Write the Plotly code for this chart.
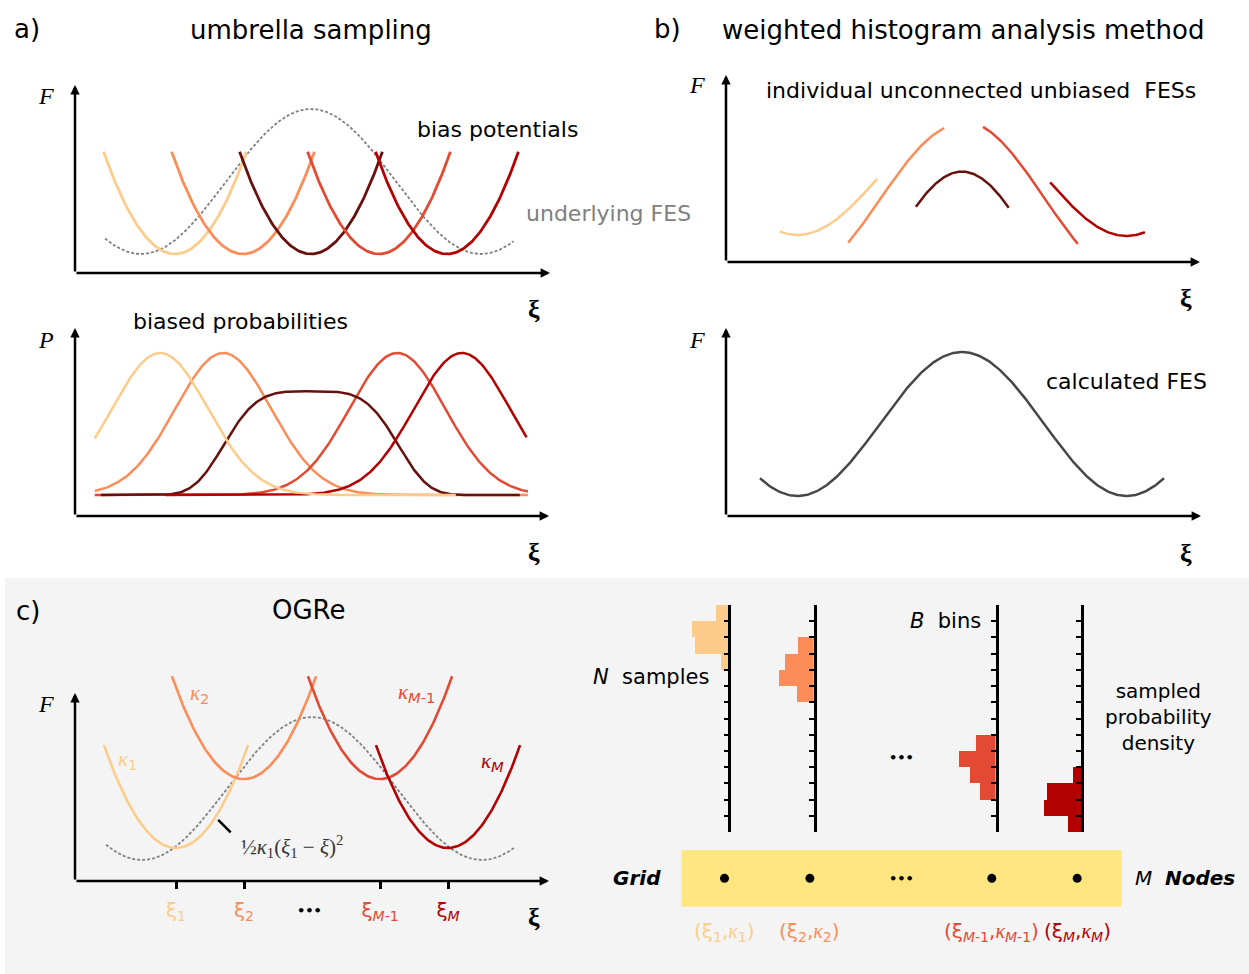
import numpy as np
import plotly.graph_objects as go

W, H = 1249, 974
SANS = "DejaVu Sans"
SERIF = "Liberation Serif"
KAPPA_FONT = "Liberation Serif"

# ---------------- data ----------------
# model free-energy surface: symmetric double well, barrier at FES_TS
FES_BARRIER = 1.0
FES_TS = 2.0
FES_HALF_PERIOD = 2.5
FES_SPAN = (-1.03, 4.98)

# a) umbrella windows
WINDOW_CENTERS = [0, 1, 2, 3, 4]
WINDOW_KAPPA = [1.28, 1.28, 1.28, 1.28, 1.28]
WINDOW_HALF_SPAN = 1.05

# a) biased probability densities  P = h * exp(-|(xi - c)/w|^p)
PROB_CENTERS = [-0.22, 0.71, 2.0, 3.27, 4.22]
PROB_HEIGHTS = [1.0, 1.0, 0.73, 1.0, 1.0]
PROB_WIDTHS = [1.0, 1.0, 1.39, 1.0, 1.0]
PROB_POWERS = [2, 2, 4, 2, 2]
PROB_SPANS = [(-1.18, 4.13), (-1.18, 5.19), (-1.09, 5.07), (-1.18, 5.19), (-0.14, 5.17)]
PROB_DRAW_ORDER = [1, 3, 2, 4, 0]

# b) unbiased pieces recovered per window (arbitrary additive constants)
SEG_SPANS = [(-0.77, 0.71), (0.27, 1.73), (1.30, 2.71), (2.32, 3.76), (3.34, 4.78)]
SEG_OFFSETS = [0.049, -0.234, -0.861, -0.228, 0.042]
SEG_SCALES = [0.82, 1.055, 1.35, 1.07, 0.84]
CALC_FES_SPAN = (-1.07, 5.07)

# c) OGRe nodes
OGRE_CENTERS = [0, 1, 3, 4]
OGRE_MIN_F = [0.084, 0.566, 0.566, 0.084]
OGRE_KAPPA = [1.28, 1.28, 1.28, 1.28]
OGRE_HALF_SPAN = 1.06

# c) sampled histograms per node
BIN_COUNT = 14
HIST_BINS = [[0, 1, 2, 3], [2, 3, 4, 5], [8, 9, 10, 11], [10, 11, 12, 13]]
HIST_COUNTS = [[12, 36, 33, 7], [16, 29, 35, 17], [20, 37, 26, 16], [8, 34, 37, 13]]

WINDOW_COLORS = ["#fdcc8a", "#fc8d59", "#67110f", "#e34a33", "#b30000"]
NODE_COLORS = ["#fdcc8a", "#fc8d59", "#e34a33", "#b30000"]
FES_GREY = "#808080"
CALC_GREY = "#474747"
BAND_COLOR = "#ffe680"
BG_GREY = "#f4f4f4"


def fes(xi):
    return FES_BARRIER * 0.5 * (1 + np.cos(np.pi * (xi - FES_TS) / FES_HALF_PERIOD))


# ---------------- layout helpers (pixel boxes of each panel) ----------------
def x_axis(lo, hi, ref_px, ref_val, ppu):
    f = lambda p: ref_val + (p - ref_px) / ppu
    return dict(domain=[lo / W, hi / W], range=[f(lo), f(hi)]), f


def y_axis(top, bottom, ref_px, ref_val, ppu):
    f = lambda p: ref_val + (ref_px - p) / ppu
    return dict(domain=[1 - bottom / H, 1 - top / H], range=[f(bottom), f(top)]), f


HIDDEN = dict(visible=False, showgrid=False, zeroline=False, fixedrange=True)

fig = go.Figure()
layout_axes = {}
annotations = []
shapes = []


def add_panel(n, xspec, yspec, arrow_top_px=None):
    xd, fx = x_axis(*xspec)
    yd, fy = y_axis(*yspec)
    xk = "xaxis" if n == 1 else f"xaxis{n}"
    yk = "yaxis" if n == 1 else f"yaxis{n}"
    xr = "x" if n == 1 else f"x{n}"
    yr = "y" if n == 1 else f"y{n}"
    layout_axes[xk] = dict(HIDDEN, **xd, anchor=yr)
    layout_axes[yk] = dict(HIDDEN, **yd, anchor=xr)
    x0, x1 = fx(xspec[0]), fx(xspec[1])
    y0 = fy(yspec[1])
    y1 = fy(arrow_top_px if arrow_top_px is not None else yspec[0])
    for (tx, ty) in [(x1, y0), (x0, y1)]:
        annotations.append(dict(
            x=tx, y=ty, ax=x0, ay=y0, xref=xr, yref=yr, axref=xr, ayref=yr,
            text="", showarrow=True, arrowhead=2, arrowsize=0.75,
            arrowwidth=2.5, arrowcolor="black", standoff=0, startstandoff=0))
    return xr, yr


# panel a (top): bias potentials on the underlying FES
xa1, ya1 = add_panel(1, (75, 550, 311, 2.0, 68), (85, 273, 254, 0.0, 145))
# panel a (bottom): biased probabilities
xa2, ya2 = add_panel(2, (75, 549, 311, 2.0, 68), (328, 516, 495, 0.0, 142))
# panel b (top): unconnected unbiased pieces
xb1, yb1 = add_panel(3, (726, 1200, 962, 2.0, 65.8), (75, 262, 242, 0.0, 144))
# panel b (bottom): calculated FES
xb2, yb2 = add_panel(4, (726, 1201, 962, 2.0, 65.8), (328, 516, 496, 0.0, 144))
# panel c (left): OGRe nodes
xc, yc = add_panel(5, (75, 549, 312, 2.0, 68), (640, 881, 860, 0.0, 143), arrow_top_px=693)

# ---- a) top
xs = np.linspace(*FES_SPAN, 300)
fig.add_trace(go.Scatter(x=xs, y=fes(xs), mode="lines", xaxis=xa1, yaxis=ya1,
                         line=dict(color=FES_GREY, width=1.8, dash="3px,2px")))
for c, k, col in zip(WINDOW_CENTERS, WINDOW_KAPPA, WINDOW_COLORS):
    xs = np.linspace(c - WINDOW_HALF_SPAN, c + WINDOW_HALF_SPAN, 120)
    fig.add_trace(go.Scatter(x=xs, y=0.5 * k * (xs - c) ** 2, mode="lines",
                             xaxis=xa1, yaxis=ya1, line=dict(color=col, width=2.8)))

# ---- a) bottom
for i in PROB_DRAW_ORDER:
    xs = np.linspace(*PROB_SPANS[i], 300)
    ys = PROB_HEIGHTS[i] * np.exp(-np.abs((xs - PROB_CENTERS[i]) / PROB_WIDTHS[i]) ** PROB_POWERS[i])
    fig.add_trace(go.Scatter(x=xs, y=ys, mode="lines", xaxis=xa2, yaxis=ya2,
                             line=dict(color=WINDOW_COLORS[i], width=2.5)))

# ---- b) top
for span, off, sc, col in zip(SEG_SPANS, SEG_OFFSETS, SEG_SCALES, WINDOW_COLORS):
    xs = np.linspace(*span, 120)
    fig.add_trace(go.Scatter(x=xs, y=off + sc * fes(xs), mode="lines",
                             xaxis=xb1, yaxis=yb1, line=dict(color=col, width=2.5)))

# ---- b) bottom
xs = np.linspace(*CALC_FES_SPAN, 300)
fig.add_trace(go.Scatter(x=xs, y=fes(xs), mode="lines", xaxis=xb2, yaxis=yb2,
                         line=dict(color=CALC_GREY, width=2.5)))

# ---- c) left
xs = np.linspace(*FES_SPAN, 300)
fig.add_trace(go.Scatter(x=xs, y=fes(xs), mode="lines", xaxis=xc, yaxis=yc,
                         line=dict(color=FES_GREY, width=1.8, dash="3px,2px")))
for c, fmin, k, col in zip(OGRE_CENTERS, OGRE_MIN_F, OGRE_KAPPA, NODE_COLORS):
    xs = np.linspace(c - OGRE_HALF_SPAN, c + OGRE_HALF_SPAN, 120)
    fig.add_trace(go.Scatter(x=xs, y=fmin + 0.5 * k * (xs - c) ** 2, mode="lines",
                             xaxis=xc, yaxis=yc, line=dict(color=col, width=2.6)))

node_ticks = []
for idx, col in zip(["1", "2", "<i>M</i>-1", "<i>M</i>"], NODE_COLORS):
    node_ticks.append(f'<span style="color:{col}">ξ<sub>{idx}</sub></span>')
layout_axes["xaxis5"].update(
    visible=True, showline=False, showgrid=False, zeroline=False,
    tickmode="array", tickvals=OGRE_CENTERS, ticktext=node_ticks,
    ticks="outside", ticklen=7, tickwidth=2.5, tickcolor="black",
    tickfont=dict(family=SANS, size=20), ticklabelstandoff=4)

# ---- c) right: histograms on the node grid
NODE_SLOTS = [0, 1, 3.13, 4.13]
SLOT_PX0, SLOT_PPU = 724.5, 85.4
BAND_BOX = (681.4, 1121.4, 850, 906.7)
HIST_TOP, HIST_BOTTOM, HIST_WIDTH = 605, 832, 46

slot_px = lambda s: SLOT_PX0 + s * SLOT_PPU
for j, (bins, counts, col) in enumerate(zip(HIST_BINS, HIST_COUNTS, NODE_COLORS)):
    n = 6 + j
    axis_px = slot_px(NODE_SLOTS[j]) + 3.8
    layout_axes[f"xaxis{n}"] = dict(HIDDEN, domain=[(axis_px - HIST_WIDTH) / W, axis_px / W],
                                    range=[HIST_WIDTH, 0], anchor=f"y{n}")
    layout_axes[f"yaxis{n}"] = dict(
        visible=True, fixedrange=True, showgrid=False, zeroline=False,
        domain=[1 - HIST_BOTTOM / H, 1 - HIST_TOP / H], range=[BIN_COUNT, 0],
        anchor=f"x{n}", side="right", showline=True, linewidth=2.5, linecolor="black",
        ticks="inside", ticklen=5, tickwidth=2, tickcolor="black",
        tickmode="array", tickvals=list(range(BIN_COUNT + 1)), showticklabels=False)
    fig.add_trace(go.Bar(x=counts, y=[b + 0.5 for b in bins], orientation="h", width=1,
                         marker=dict(color=col, line=dict(width=0)),
                         xaxis=f"x{n}", yaxis=f"y{n}"))

bx0, bx1, by0, by1 = BAND_BOX
layout_axes["xaxis10"] = dict(HIDDEN, domain=[bx0 / W, bx1 / W],
                              range=[(bx0 - SLOT_PX0) / SLOT_PPU, (bx1 - SLOT_PX0) / SLOT_PPU],
                              anchor="y10")
layout_axes["yaxis10"] = dict(HIDDEN, domain=[1 - by1 / H, 1 - by0 / H], range=[0, 1], anchor="x10")
shapes.append(dict(type="rect", xref="paper", yref="paper", x0=5 / W, x1=1, y0=0, y1=1 - 578 / H,
                   fillcolor=BG_GREY, line=dict(width=0), layer="below"))
shapes.append(dict(type="rect", xref="x10 domain", yref="y10 domain", x0=0, x1=1, y0=0, y1=1,
                   fillcolor=BAND_COLOR, line=dict(width=0), layer="below"))
fig.add_trace(go.Scatter(x=NODE_SLOTS, y=[0.5] * 4, mode="markers", xaxis="x10", yaxis="y10",
                         marker=dict(color="black", size=9)))

kap = f'<span style="font-family:{KAPPA_FONT}"><i>κ</i></span>'
node_pairs = [("1", "1"), ("2", "2"), ("<i>M</i>-1", "<i>M</i>-1"), ("<i>M</i>", "<i>M</i>")]
for s, (a, b), col in zip(NODE_SLOTS, node_pairs, NODE_COLORS):
    annotations.append(dict(
        x=s, xref="x10", y=1 - 932 / H, yref="paper", showarrow=False,
        text=f'(ξ<sub>{a}</sub>,{kap}<sub>{b}</sub>)',
        font=dict(family=SANS, size=20, color=col), xanchor="center", yanchor="middle"))

# leader from the first bias to its formula
annotations.append(dict(x=0.62, y=0.28, ax=0.826, ay=0.182, xref=xc, yref=yc, axref=xc, ayref=yc,
                        text="", showarrow=True, arrowhead=0, arrowwidth=2.5, arrowcolor="black",
                        standoff=0, startstandoff=0))


def label(text, px, py, size, family=SANS, color="black", **kw):
    annotations.append(dict(text=text, x=px / W, y=1 - py / H, xref="paper", yref="paper",
                            showarrow=False, xanchor="center", yanchor="middle",
                            font=dict(family=family, size=size, color=color), **kw))


# panel headings
label("a)", 27, 29, 26)
label("umbrella sampling", 310.5, 29.5, 26)
label("b)", 667.5, 29, 26)
label("weighted histogram analysis method", 963, 29.5, 26)
label("c)", 27.5, 611, 26)
label("OGRe", 309, 610, 26)

# in-panel texts
label("bias potentials", 497.5, 129.5, 22)
label("underlying FES", 608.6, 213, 22, color=FES_GREY)
label("biased probabilities", 240, 321, 22)
label("individual unconnected unbiased  FESs", 981, 91, 22)
label("calculated FES", 1126, 381, 22)
label("<i>N</i>  samples", 650.5, 677, 21)
label("<i>B</i>  bins", 945.6, 621, 21)
label("sampled<br>probability<br>density", 1158, 717, 20)
label("<b><i>Grid</i></b>", 637, 878, 20)
label("<i>M</i>  <b><i>Nodes</i></b>", 1184.5, 878, 20)
label("<b>•••</b>", 309, 910, 13)
label("<b>•••</b>", 901, 757, 13)
label("<b>•••</b>", 901, 878, 13)

# axis symbols
for t, px, py in [("F", 46, 96), ("P", 46, 339.5), ("F", 697, 85.5), ("F", 697, 339.5), ("F", 46, 703.5)]:
    label(f"<i>{t}</i>", px, py, 24, family=SERIF)
for px, py in [(534, 309), (534, 552), (1186, 298), (1186, 553), (534, 917)]:
    label("<b>ξ</b>", px, py, 26, family=SERIF)

# force constants
label(f"{kap}<sub>1</sub>", 127, 760, 21, color=NODE_COLORS[0])
label(f"{kap}<sub>2</sub>", 199.6, 694, 21, color=NODE_COLORS[1])
label(f"{kap}<sub><i>M</i>-1</sub>", 416, 693, 21, color=NODE_COLORS[2])
label(f"{kap}<sub><i>M</i></sub>", 492, 762, 21, color=NODE_COLORS[3])

# harmonic bias expression
label("½<i>κ</i><sub>1</sub>(<i>ξ</i><sub>1</sub> − <i>ξ</i>)<sup>2</sup>", 292, 846, 21,
      family=SERIF, color="#333333")

fig.update_layout(
    width=W, height=H, margin=dict(l=0, r=0, t=0, b=0),
    paper_bgcolor="white", plot_bgcolor="rgba(0,0,0,0)",
    showlegend=False, annotations=annotations, shapes=shapes,
    bargap=0, **layout_axes)

fig.write_html("out.html")
